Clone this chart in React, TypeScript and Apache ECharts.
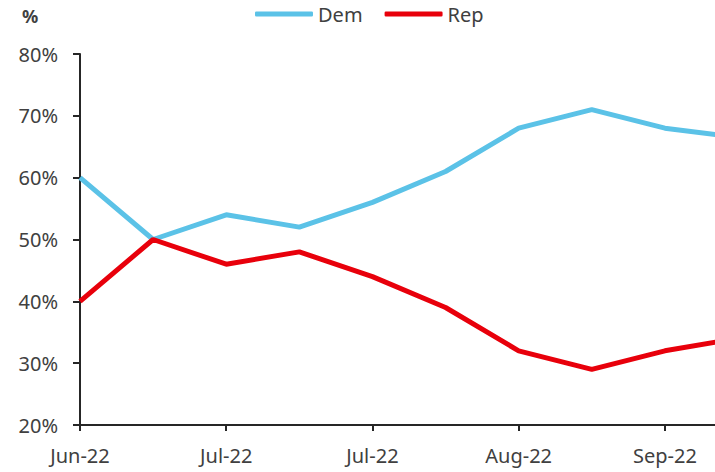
import React, { useEffect, useRef } from "react";
import * as echarts from "echarts";

// Survey dates (biweekly) and share of respondents per party, in %
const dates = [
  "2022-06-03",
  "2022-06-17",
  "2022-07-01",
  "2022-07-15",
  "2022-07-29",
  "2022-08-12",
  "2022-08-26",
  "2022-09-09",
  "2022-09-23",
  "2022-10-07",
];
const demValues = [60, 50, 54, 52, 56, 61, 68, 71, 68, 66.5];
const repValues = [40, 50, 46, 48, 44, 39, 32, 29, 32, 34];
const yTicks = { min: 20, max: 80, step: 10 };

const MONTHS = ["Jan", "Feb", "Mar", "Apr", "May", "Jun", "Jul", "Aug", "Sep", "Oct", "Nov", "Dec"];
const monthLabel = (d: string) => {
  const [y, m] = d.split("-");
  return `${MONTHS[Number(m) - 1]}-${y.slice(2)}`;
};

const FONT = "'Noto Sans', 'Open Sans', sans-serif";
const TEXT = "#404040";
const AXIS = "#262626";

export default function App() {
  const ref = useRef<HTMLDivElement>(null);

  useEffect(() => {
    if (!ref.current) return;
    const chart = echarts.init(ref.current, undefined, { renderer: "svg" });
    chart.setOption({
      animation: false,
      backgroundColor: "#ffffff",
      textStyle: { fontFamily: FONT },
      graphic: [
        {
          type: "text",
          left: 22,
          top: 7,
          style: { text: "%", fontSize: 18, fontWeight: "bold", fill: TEXT, fontFamily: FONT },
        },
      ],
      legend: {
        top: 4,
        left: 255,
        padding: 0,
        itemWidth: 58,
        itemHeight: 5,
        itemGap: 22,
        icon: "roundRect",
        textStyle: { fontSize: 20, color: TEXT, fontFamily: FONT },
        data: ["Dem", "Rep"],
      },
      // the last survey point sits just past the right edge, so the plot runs off-canvas
      grid: { left: 80, width: 658, top: 54, bottom: 47, outerBoundsMode: "none" },
      xAxis: {
        type: "category",
        data: dates,
        boundaryGap: false,
        axisLine: { lineStyle: { color: AXIS, width: 2 } },
        axisTick: { interval: 1, length: 6, lineStyle: { color: AXIS, width: 2 } },
        axisLabel: {
          interval: 1,
          margin: 20,
          fontSize: 20,
          color: TEXT,
          fontFamily: FONT,
          formatter: (v: string) => monthLabel(v),
        },
        splitLine: { show: false },
      },
      yAxis: {
        type: "value",
        min: yTicks.min,
        max: yTicks.max,
        interval: yTicks.step,
        axisLine: { show: true, lineStyle: { color: AXIS, width: 2 } },
        axisTick: { show: true, length: 7, lineStyle: { color: AXIS, width: 2 } },
        axisLabel: { margin: 22, fontSize: 20, color: TEXT, fontFamily: FONT, formatter: "{value}%" },
        splitLine: { show: false },
      },
      series: [
        {
          name: "Dem",
          type: "line",
          data: demValues,
          symbol: "none",
          color: "#5BC2E7",
          lineStyle: { width: 5, color: "#5BC2E7" },
        },
        {
          name: "Rep",
          type: "line",
          data: repValues,
          symbol: "none",
          color: "#E8000B",
          lineStyle: { width: 5, color: "#E8000B" },
        },
      ],
    });
    return () => chart.dispose();
  }, []);

  return <div ref={ref} style={{ width: 715, height: 472, position: "fixed", left: 0, top: 0 }} />;
}
